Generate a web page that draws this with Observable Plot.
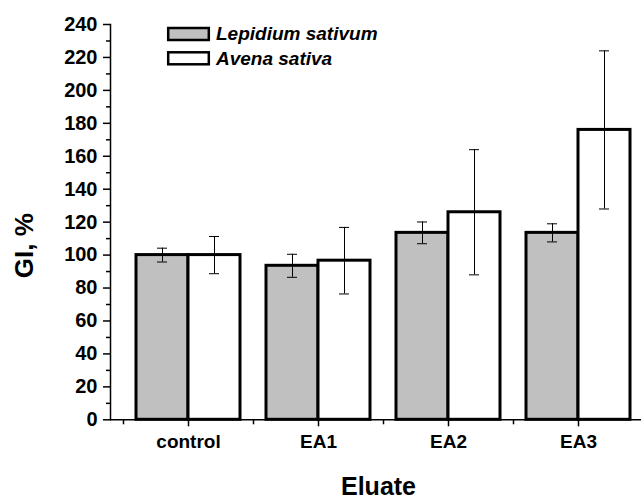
<!DOCTYPE html>
<html><head><meta charset="utf-8">
<script src="https://cdn.jsdelivr.net/npm/d3@7"></script>
<script src="https://cdn.jsdelivr.net/npm/@observablehq/plot@0.6"></script>
<style>
body{margin:0;background:#fff;overflow:hidden}
#wrap{position:relative;width:641px;height:500px}
#wrap svg{overflow:hidden}
#legend{position:absolute;left:0;top:0}
</style></head><body><div id="wrap"></div>
<script>
const categories = ["control", "EA1", "EA2", "EA3"];
const lepidium = [100, 93.5, 113.5, 113.5];
const lepidiumErr = [4.2, 7, 6.6, 5.5];
const avena = [100, 96.6, 126, 176];
const avenaErr = [11.3, 20.2, 38, 48];
const seriesNames = ["Lepidium sativum", "Avena sativa"];
const majorY = d3.range(0, 241, 20);
const minorY = d3.range(10, 240, 20);

const gray = "#c0c0c0";
const lep = categories.map((c, i) => ({cat: c, v: lepidium[i], lo: lepidium[i] - lepidiumErr[i], hi: lepidium[i] + lepidiumErr[i]}));
const ave = categories.map((c, i) => ({cat: c, v: avena[i], lo: avena[i] - avenaErr[i], hi: avena[i] + avenaErr[i]}));
const font = '"Liberation Sans", Arial, sans-serif';

const chart = Plot.plot({
  width: 641, height: 500,
  marginLeft: 110, marginRight: -15, marginTop: 24, marginBottom: 80.7,
  style: {fontFamily: font, fontWeight: "bold", color: "#000", background: "#fff"},
  x: {type: "band", domain: categories, paddingInner: 0, paddingOuter: 0.1},
  y: {domain: [0, 240]},
  marks: [
    Plot.barY(lep, {x: "cat", y: "v", fill: gray, stroke: "#000", strokeWidth: 3, insetLeft: 13, insetRight: 65}),
    Plot.barY(ave, {x: "cat", y: "v", fill: "#fff", stroke: "#000", strokeWidth: 3, insetLeft: 65, insetRight: 13}),
    Plot.ruleX(lep, {x: "cat", y1: "lo", y2: "hi", dx: -26, stroke: "#000", strokeWidth: 1}),
    Plot.ruleX(ave, {x: "cat", y1: "lo", y2: "hi", dx: 26, stroke: "#000", strokeWidth: 1}),
    Plot.tickY(lep, {x: "cat", y: "hi", insetLeft: 34, insetRight: 86, stroke: "#000", strokeWidth: 1}),
    Plot.tickY(lep, {x: "cat", y: "lo", insetLeft: 34, insetRight: 86, stroke: "#000", strokeWidth: 1}),
    Plot.tickY(ave, {x: "cat", y: "hi", insetLeft: 86, insetRight: 34, stroke: "#000", strokeWidth: 1}),
    Plot.tickY(ave, {x: "cat", y: "lo", insetLeft: 86, insetRight: 34, stroke: "#000", strokeWidth: 1}),
    Plot.ruleY([0], {stroke: "#000", strokeWidth: 1.5}),
    Plot.frame({anchor: "left", stroke: "#000", strokeWidth: 1.5}),
    Plot.axisY(majorY, {tickSize: 7, tickPadding: 6, fontSize: 20, fontWeight: "bold", label: null, strokeWidth: 1.5}),
    Plot.axisY(minorY, {tickSize: 4, tickFormat: () => "", label: null, strokeWidth: 1.5}),
    Plot.axisX({tickSize: 7, tickPadding: 7.5, fontSize: 19, fontWeight: "bold", label: null, strokeWidth: 1.5}),
    Plot.axisX({tickSize: 5, tickFormat: () => "", label: null, dx: -65, strokeWidth: 1.5}),
    Plot.text(["GI, %"], {frameAnchor: "left", textAnchor: "middle", rotate: -90, dx: -86, dy: 23.5, fontSize: 26, fontWeight: "bold", lineAnchor: "middle"}),
    Plot.text(["Eluate"], {frameAnchor: "bottom", dx: -5, dy: 67, fontSize: 25, fontWeight: "bold", lineAnchor: "middle"})
  ]
});
const wrap = document.getElementById("wrap");
wrap.appendChild(chart);

// legend overlay
const lg = d3.select(wrap).append("svg").attr("id", "legend").attr("width", 641).attr("height", 80);
const fills = [gray, "#fff"];
seriesNames.forEach((name, i) => {
  const y0 = 28 + i * 24.3;
  lg.append("rect").attr("x", 168.2).attr("y", y0).attr("width", 40.6).attr("height", 12)
    .attr("fill", fills[i]).attr("stroke", "#000").attr("stroke-width", 2.5);
  lg.append("text").attr("x", 216).attr("y", y0 + 12.3).text(name)
    .attr("font-family", font).attr("font-weight", "bold").attr("font-style", "italic").attr("font-size", 19);
});
</script>
</body></html>
